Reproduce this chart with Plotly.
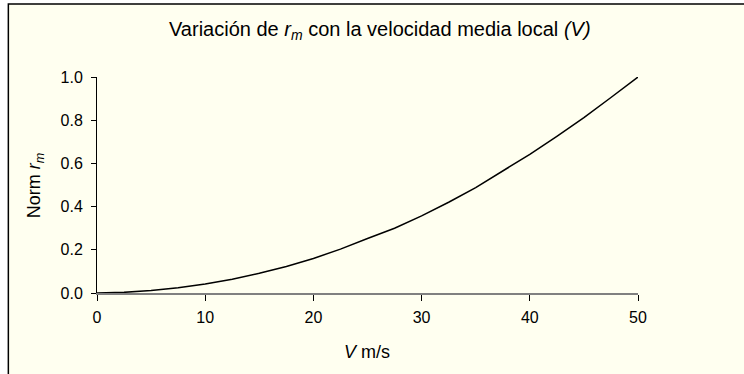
import plotly.graph_objects as go

velocity = [0, 2.5, 5, 7.5, 10, 12.5, 15, 17.5, 20, 22.5, 25, 27.5, 30, 32.5, 35, 37.5, 40, 42.5, 45, 47.5, 50]
norm_rm = [0.0, 0.003, 0.011, 0.024, 0.042, 0.064, 0.091, 0.123, 0.16, 0.203, 0.252, 0.3, 0.357, 0.42, 0.488, 0.563, 0.642, 0.725, 0.812, 0.905, 1.0]
x_ticks = [0, 10, 20, 30, 40, 50]
y_ticks = [0.0, 0.2, 0.4, 0.6, 0.8, 1.0]

W, H = 744, 374
L, R, T, B = 96.7, 638.0, 77.0, 293.0  # plot area pixel bounds
pw, ph = R - L, B - T

def px(x):
    return (x - L) / pw

def py(y):
    return (B - y) / ph

FONT = "Liberation Sans, Arial, sans-serif"
BG = "#FFFFF0"

fig = go.Figure()
fig.add_trace(go.Scatter(x=velocity, y=norm_rm, mode="lines",
                         line=dict(color="black", width=1.5), showlegend=False,
                         hoverinfo="skip"))

fig.update_layout(
    width=W, height=H,
    margin=dict(l=L, r=W - R, t=T, b=H - B, pad=0),
    paper_bgcolor="white",
    plot_bgcolor=BG,
    font=dict(family=FONT, color="black", size=16),
    xaxis=dict(range=[0, 50], tickvals=x_ticks, ticktext=[str(v) for v in x_ticks],
               showgrid=False, zeroline=False, showline=True, linecolor="#808080",
               linewidth=1.5, ticks="outside", ticklen=6, tickcolor="black",
               tickwidth=1, tickfont=dict(size=16), ticklabelstandoff=3,
               fixedrange=True),
    yaxis=dict(range=[0, 1], tickvals=y_ticks, ticktext=[f"{v:.1f}" for v in y_ticks],
               showgrid=False, zeroline=False, showline=True, linecolor="black",
               linewidth=1, ticks="outside", ticklen=5, tickcolor="black",
               tickwidth=1, tickfont=dict(size=16), ticklabelstandoff=5,
               fixedrange=True),
    shapes=[dict(type="rect", xref="paper", yref="paper",
                 x0=px(8), x1=px(W + 20), y0=py(H + 20), y1=py(4),
                 fillcolor=BG, line=dict(color="black", width=1.5), layer="below")],
    annotations=[
        dict(text="Variación de <i>r</i><sub><i>m</i></sub> con la velocidad media local <i>(V)</i>",
             xref="paper", yref="paper", x=px(380), y=py(31), xanchor="center",
             yanchor="middle", showarrow=False, font=dict(size=20)),
        dict(text="<i>V</i> m/s", xref="paper", yref="paper", x=px(367), y=py(352),
             xanchor="center", yanchor="middle", showarrow=False, font=dict(size=18)),
        dict(text="Norm <i>r</i><sub><i>m</i></sub>", xref="paper", yref="paper",
             x=px(35), y=py(185), xanchor="center", yanchor="middle", textangle=-90,
             showarrow=False, font=dict(size=18)),
    ],
)

fig.write_html("out.html", config={"displayModeBar": False},
               post_script="document.body.style.margin='0';")
